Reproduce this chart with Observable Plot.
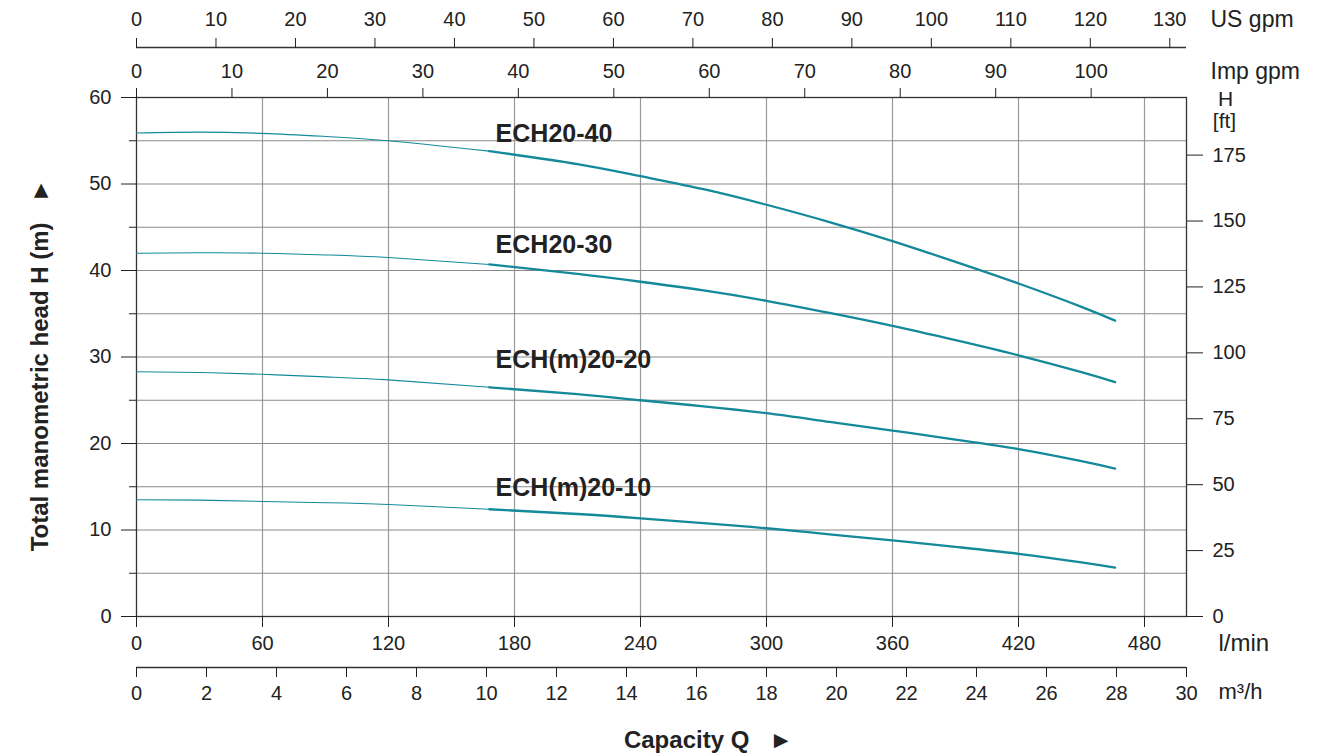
<!DOCTYPE html>
<html>
<head>
<meta charset="utf-8">
<script src="https://cdn.jsdelivr.net/npm/d3@7"></script>
<script src="https://cdn.jsdelivr.net/npm/@observablehq/plot@0.6"></script>
<style>
  html, body { margin: 0; padding: 0; background: #fff; }
</style>
</head>
<body>
<div id="chart"></div>
<script>
// ---- data (flow in l/min, head in m) ----
const flowLmin = [0, 30, 60, 90, 120, 168, 210, 240, 270, 300, 330, 360, 390, 420, 450, 466];
const headECH20_40  = [55.9, 56.0, 55.85, 55.5, 55.0, 53.8, 52.3, 50.9, 49.4, 47.6, 45.6, 43.4, 41.0, 38.5, 35.8, 34.2];
const headECH20_30  = [42.0, 42.05, 42.0, 41.8, 41.5, 40.7, 39.6, 38.7, 37.7, 36.5, 35.1, 33.6, 31.95, 30.2, 28.25, 27.1];
const headECHm20_20 = [28.3, 28.2, 28.0, 27.7, 27.35, 26.5, 25.7, 25.0, 24.3, 23.5, 22.5, 21.5, 20.45, 19.35, 17.95, 17.1];
const headECHm20_10 = [13.5, 13.45, 13.3, 13.15, 12.95, 12.4, 11.85, 11.35, 10.8, 10.2, 9.5, 8.8, 8.05, 7.25, 6.25, 5.65];
const seriesNames = ["ECH20-40", "ECH20-30", "ECH(m)20-20", "ECH(m)20-10"];
const seriesHeads = [headECH20_40, headECH20_30, headECHm20_20, headECHm20_10];
const labelFlow = [171, 171, 171, 171];
const labelHead = [55.8, 42.9, 29.6, 14.9];
const thinUntilFlow = 168;

const lminTicks = [0, 60, 120, 180, 240, 300, 360, 420, 480];
const m3hTicks = [0, 2, 4, 6, 8, 10, 12, 14, 16, 18, 20, 22, 24, 26, 28, 30];
const usGpmTicks = [0, 10, 20, 30, 40, 50, 60, 70, 80, 90, 100, 110, 120, 130];
const impGpmTicks = [0, 10, 20, 30, 40, 50, 60, 70, 80, 90, 100];
const headTicks = [0, 10, 20, 30, 40, 50, 60];
const headMinorTicks = [5, 15, 25, 35, 45, 55];
const ftTicks = [0, 25, 50, 75, 100, 125, 150, 175];

// unit conversions
const LMIN_PER_M3H = 1000 / 60;
const LMIN_PER_USGPM = 3.785;
const LMIN_PER_IMPGPM = 4.546;
const M_PER_FT = 0.3048;

// ---- build tables ----
const rows = [];
seriesNames.forEach((name, s) => {
  flowLmin.forEach((q, i) => rows.push({series: name, q, h: seriesHeads[s][i]}));
});
const thinRows = rows.filter(d => d.q <= thinUntilFlow);
const thickRows = rows.filter(d => d.q >= thinUntilFlow);
const labels = seriesNames.map((name, i) => ({name, q: labelFlow[i], h: labelHead[i]}));

const teal = "#13899a";
const ink = "#222";
const font = "'Liberation Sans', Arial, Helvetica, sans-serif";

const chart = Plot.plot({
  width: 1339,
  height: 756,
  marginLeft: 136,
  marginRight: 153,
  marginTop: 97,
  marginBottom: 140,
  style: {fontFamily: font, fontSize: "20px", color: ink, background: "#fff", overflow: "visible"},
  x: {domain: [0, 500]},
  y: {domain: [0, 60]},
  marks: [
    Plot.gridX(lminTicks.slice(1), {stroke: "#9a9a9a", strokeOpacity: 1, strokeWidth: 1.2}),
    Plot.gridY(headMinorTicks.concat(headTicks.slice(1, -1)), {stroke: "#8a8a8a", strokeOpacity: 1, strokeWidth: 1.1}),
    Plot.frame({stroke: "#333", strokeWidth: 1.3}),
    Plot.line(thinRows, {x: "q", y: "h", z: "series", stroke: teal, strokeWidth: 1.1, curve: "natural"}),
    Plot.line(thickRows, {x: "q", y: "h", z: "series", stroke: teal, strokeWidth: 2.3, curve: "natural"}),
    Plot.text(labels, {x: "q", y: "h", text: "name", textAnchor: "start", fontSize: 25, fontWeight: "bold", fill: ink}),

    // left head axis (m)
    Plot.axisY({ticks: headTicks, tickSize: 15, tickPadding: 10, label: null, fontSize: 20}),
    Plot.axisY({ticks: headMinorTicks, tickSize: 7, tickFormat: () => "", label: null}),
    // right head axis (ft)
    Plot.axisY({anchor: "right", ticks: ftTicks.map(f => f * M_PER_FT), tickFormat: d => Math.round(d / M_PER_FT),
                tickSize: 16, tickPadding: 10, label: null, fontSize: 20}),
    // bottom l/min
    Plot.axisX({ticks: lminTicks, tickSize: 11, tickPadding: 8, label: null, fontSize: 20}),
    // m3/h
    Plot.ruleY([0], {dy: 51, stroke: "#333", strokeWidth: 1.3}),
    Plot.axisX({ticks: m3hTicks.map(v => v * LMIN_PER_M3H), tickFormat: d => Math.round(d / LMIN_PER_M3H),
                dy: 51, tickSize: 10, tickPadding: 8, label: null, fontSize: 20}),
    // Imp gpm
    Plot.axisX({anchor: "top", ticks: impGpmTicks.map(v => v * LMIN_PER_IMPGPM), tickFormat: d => Math.round(d / LMIN_PER_IMPGPM),
                tickSize: 10, tickPadding: 10, label: null, fontSize: 20}),
    // US gpm
    Plot.ruleY([60], {dy: -50, stroke: "#333", strokeWidth: 1.3}),
    Plot.axisX({anchor: "top", ticks: usGpmTicks.map(v => v * LMIN_PER_USGPM), tickFormat: d => Math.round(d / LMIN_PER_USGPM),
                dy: -50, tickSize: 10, tickPadding: 12, label: null, fontSize: 20}),

    // unit labels
    Plot.text(["US gpm"], {frameAnchor: "top-right", dx: 24, dy: -78, textAnchor: "start", lineAnchor: "middle", fontSize: 23, fill: ink}),
    Plot.text(["Imp gpm"], {frameAnchor: "top-right", dx: 24, dy: -26, textAnchor: "start", lineAnchor: "middle", fontSize: 23, fill: ink}),
    Plot.text(["H"], {frameAnchor: "top-right", dx: 39, dy: 2, textAnchor: "middle", lineAnchor: "middle", fontSize: 21, fill: ink}),
    Plot.text(["[ft]"], {frameAnchor: "top-right", dx: 38, dy: 24, textAnchor: "middle", lineAnchor: "middle", fontSize: 21, fill: ink}),
    Plot.text(["l/min"], {frameAnchor: "bottom-right", dx: 32, dy: 27, textAnchor: "start", lineAnchor: "middle", fontSize: 24, fill: ink}),
    Plot.text(["m³/h"], {frameAnchor: "bottom-right", dx: 32, dy: 75, textAnchor: "start", lineAnchor: "middle", fontSize: 22, fill: ink}),
    Plot.text(["Total manometric head H (m)\u00a0\u00a0\u00a0►"], {frameAnchor: "left", dx: -96, dy: 8, rotate: -90,
                textAnchor: "middle", lineAnchor: "middle", fontSize: 24, fontWeight: "bold", fill: ink}),
    Plot.text(["Capacity Q\u00a0\u00a0\u00a0►"], {frameAnchor: "bottom", dx: 47, dy: 124, textAnchor: "middle", lineAnchor: "middle",
                fontSize: 24, fontWeight: "bold", fill: ink})
  ]
});
document.getElementById("chart").appendChild(chart);
</script>
</body>
</html>
